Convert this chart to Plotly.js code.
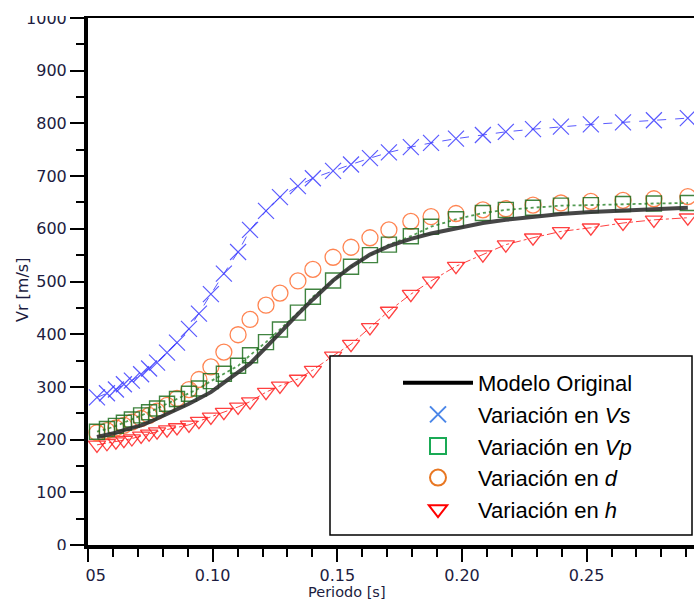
<!DOCTYPE html>
<html>
<head>
<meta charset="utf-8">
<script src="https://cdn.plot.ly/plotly-3.0.1.min.js"></script>
<style>html,body{margin:0;padding:0;background:#fff;}#chart{width:694px;height:601px;}</style>
</head>
<body>
<div id="chart"></div>
<script>
// Periodo [s] (common grid of the sampled points)
const periodo = [0.0536, 0.0576, 0.0612, 0.0644, 0.0676, 0.0713, 0.0745, 0.0777, 0.0817, 0.0857,
  0.0905, 0.0945, 0.0993, 0.1045, 0.1102, 0.1150, 0.1214, 0.1270, 0.1342, 0.1402,
  0.1483, 0.1555, 0.1631, 0.1707, 0.1795, 0.1876, 0.1976, 0.2084, 0.2176, 0.2285,
  0.2397, 0.2517, 0.2646, 0.2770, 0.2906];
// Vr [m/s]
const modeloOriginal = [205, 209, 213, 218, 222, 227, 233, 240, 248, 256, 268, 278, 290, 308, 327, 344, 375, 403, 438, 466,
  502, 528, 551, 567, 581, 591, 601, 611, 617, 623, 628, 632, 635, 638, 640];
const variacionVs = [280, 288, 295, 305, 312, 324, 335, 346, 365, 384, 410, 439, 476, 515, 556, 598, 634, 660, 681, 696,
  710, 722, 734, 745, 755, 763, 771, 778, 784, 789, 794, 798, 802, 806, 810];
const variacionVp = [215, 220, 226, 232, 238, 246, 252, 259, 268, 277, 287, 297, 311, 325, 340, 360, 385, 409, 441, 471,
  502, 528, 550, 570, 586, 604, 618, 630, 636, 640, 644, 645, 647, 648, 649];
const variacionD = [213, 217, 222, 227, 233, 240, 246, 254, 265, 278, 295, 314, 338, 366, 399, 428, 455, 478, 501, 523,
  546, 565, 583, 598, 614, 623, 629, 636, 638, 645, 649, 652, 654, 657, 661];
const variacionH = [190, 193, 196, 199, 202, 207, 211, 215, 219, 223, 228, 235, 243, 252, 262, 272, 290, 302, 315, 332,
  359, 381, 413, 444, 476, 501, 529, 551, 570, 583, 595, 602, 611, 617, 621];

const legendNames = ['Modelo Original', 'Variación en <i>Vs</i>', 'Variación en <i>Vp</i>', 'Variación en <i>d</i>', 'Variación en <i>h</i>'];
const xTickVals = [0.05, 0.10, 0.15, 0.20, 0.25];
const yTickVals = [0, 100, 200, 300, 400, 500, 600, 700, 800, 900, 1000];

const W = 694, H = 601, L = 88, T = 18, B = 56;
const plotW = W - L, plotH = H - T - B;
const px2x = p => (p - L) / plotW;
const py2y = p => (H - B - p) / plotH;

const blue = 'rgba(60,60,255,0.85)', red = 'rgba(255,30,30,0.85)', orange = 'rgba(255,110,50,0.85)', green = 'rgba(30,110,30,0.85)';

const traces = [
  {x: periodo, y: variacionVs, mode: 'lines+markers', showlegend: false,
   line: {color: blue, width: 1, dash: 'dash'},
   marker: {symbol: 'x-thin-open', size: 16, color: blue, line: {color: blue, width: 1.2}}},
  {x: periodo, y: variacionH, mode: 'lines+markers', showlegend: false,
   line: {color: red, width: 1, dash: 'dashdot'},
   marker: {symbol: 'triangle-down-open', size: 15, color: red, line: {color: red, width: 1.3}}},
  {x: periodo, y: variacionD, mode: 'markers', showlegend: false,
   marker: {symbol: 'circle-open', size: 16, color: orange, line: {color: orange, width: 1.3}}},
  {x: periodo, y: variacionVp, mode: 'lines+markers', showlegend: false,
   line: {color: 'rgba(40,130,40,0.8)', width: 1.8, dash: 'dot'},
   marker: {symbol: 'square-open', size: 15, color: green, line: {color: green, width: 1.4}}},
  {x: periodo, y: modeloOriginal, mode: 'lines', showlegend: false,
   line: {color: 'rgba(50,50,50,0.9)', width: 4}},
  // legend entries
  {x: [null], y: [null], mode: 'lines', name: legendNames[0], line: {color: '#000', width: 4}},
  {x: [null], y: [null], mode: 'markers', name: legendNames[1], marker: {symbol: 'x-thin-open', size: 16, color: '#4a86e8', line: {color: '#4a86e8', width: 2}}},
  {x: [null], y: [null], mode: 'markers', name: legendNames[2], marker: {symbol: 'square-open', size: 16, color: '#1aaa55', line: {color: '#1aaa55', width: 2}}},
  {x: [null], y: [null], mode: 'markers', name: legendNames[3], marker: {symbol: 'circle-open', size: 16, color: '#e87722', line: {color: '#e87722', width: 2}}},
  {x: [null], y: [null], mode: 'markers', name: legendNames[4], marker: {symbol: 'triangle-down-open', size: 16, color: '#ff0000', line: {color: '#ff0000', width: 2}}}
];

const tickFont = {family: 'DejaVu Sans', size: 16, color: '#1c1c40'};

const layout = {
  width: W, height: H,
  margin: {l: L, r: 0, t: T, b: B, pad: 0},
  paper_bgcolor: '#fff', plot_bgcolor: '#fff',
  showlegend: true,
  xaxis: {
    range: [0.05, 0.05 + plotW / 2493], tickvals: xTickVals, ticktext: xTickVals.map(v => v.toFixed(2)),
    showgrid: false, zeroline: false, showline: true, linewidth: 4, linecolor: '#000', mirror: true,
    ticks: 'outside', ticklen: 13, tickwidth: 2, tickcolor: '#000', tickfont: tickFont, ticklabelstandoff: 0,
    minor: {dtick: 0.01, tick0: 0.05, ticks: 'outside', ticklen: 8, tickwidth: 2, tickcolor: '#000', showgrid: false}
  },
  yaxis: {
    range: [0, 1000], tickvals: yTickVals, showgrid: false, zeroline: false,
    showline: true, linewidth: 4, linecolor: '#000',
    ticks: 'outside', ticklen: 14, tickwidth: 2, tickcolor: '#000', tickfont: tickFont,
    minor: {dtick: 50, tick0: 0, ticks: 'outside', ticklen: 8, tickwidth: 2, tickcolor: '#000', showgrid: false}
  },
  legend: {
    x: px2x(398), y: py2y(362), xanchor: 'left', yanchor: 'top',
    bgcolor: 'rgba(0,0,0,0)', borderwidth: 0, itemwidth: 70,
    font: {family: 'Liberation Sans, Arial', size: 22, color: '#000'},
    traceorder: 'normal'
  },
  shapes: [
    {type: 'rect', xref: 'paper', yref: 'paper', x0: px2x(330), x1: px2x(692), y0: py2y(356), y1: py2y(535),
     fillcolor: '#fff', line: {color: '#000', width: 1.5}, layer: 'above'},
    {type: 'rect', xref: 'paper', yref: 'paper', x0: px2x(-5), x1: px2x(700), y0: py2y(-5), y1: py2y(16),
     fillcolor: '#fff', line: {width: 0}, layer: 'above'},
    {type: 'rect', xref: 'paper', yref: 'paper', x0: px2x(-5), x1: px2x(85), y0: py2y(550), y1: py2y(606),
     fillcolor: '#fff', line: {width: 0}, layer: 'above'}
  ],
  annotations: [
    {text: 'Vr [m/s]', xref: 'paper', yref: 'paper', x: px2x(22), y: py2y(290), textangle: -90,
     showarrow: false, xanchor: 'center', yanchor: 'middle', font: {family: 'DejaVu Sans', size: 16, color: '#1c1c40'}},
    {text: 'Periodo [s]', xref: 'paper', yref: 'paper', x: px2x(347), y: py2y(591.5),
     showarrow: false, xanchor: 'center', yanchor: 'middle', font: {family: 'DejaVu Sans', size: 14.5, color: '#1c1c40'}}
  ]
};

Plotly.newPlot('chart', traces, layout, {displayModeBar: false, staticPlot: true});
</script>
</body>
</html>
